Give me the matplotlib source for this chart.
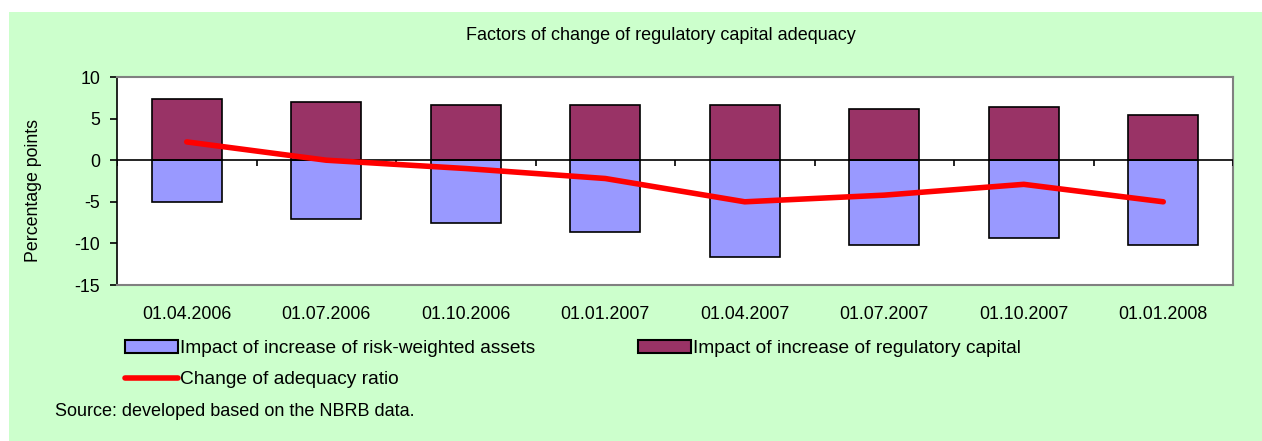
import matplotlib
matplotlib.use("Agg")
import matplotlib.pyplot as plt
import numpy as np
from matplotlib.patches import Rectangle, Patch
from matplotlib.lines import Line2D

plt.rcParams['font.family'] = ['Liberation Sans', 'DejaVu Sans']
plt.rcParams['axes.unicode_minus'] = False

dates = ["01.04.2006", "01.07.2006", "01.10.2006", "01.01.2007",
         "01.04.2007", "01.07.2007", "01.10.2007", "01.01.2008"]
rwa_impact = [-5.0, -7.1, -7.5, -8.6, -11.6, -10.2, -9.3, -10.2]
capital_impact = [7.3, 7.0, 6.6, 6.6, 6.6, 6.1, 6.4, 5.4]
adequacy_change = [2.2, 0.0, -1.0, -2.2, -5.0, -4.2, -2.9, -5.0]

title = "Factors of change of regulatory capital adequacy"
ylabel = "Percentage points"
labels = ["Impact of increase of risk-weighted assets",
          "Impact of increase of regulatory capital",
          "Change of adequacy ratio"]
source = "Source: developed based on the NBRB data."

W, H = 1262, 441
fig = plt.figure(figsize=(W / 100, H / 100), dpi=100, facecolor='white')
# green panel
fig.patches.append(Rectangle((9 / W, 0), 1 - 9 / W, (H - 12) / H,
                             transform=fig.transFigure, facecolor='#CCFFCC',
                             edgecolor='none', zorder=-10))

ax = fig.add_axes([117 / W, 1 - 285 / H, 1116 / W, 208 / H])
ax.set_facecolor('white')
x = np.arange(len(dates))
ax.bar(x, rwa_impact, width=0.5, color='#9999FF', edgecolor='black', linewidth=1.2, zorder=2)
ax.bar(x, capital_impact, width=0.5, color='#993366', edgecolor='black', linewidth=1.2, zorder=2)
ax.axhline(0, color='black', linewidth=1.2, zorder=3)
ax.vlines(np.arange(len(dates) + 1) - 0.5, -0.7, 0, color='black', linewidth=1.2, zorder=3)
ax.plot(x, adequacy_change, color='#FF0000', linewidth=4.0, solid_capstyle='round',
        solid_joinstyle='round', zorder=4)

ax.set_xlim(-0.5, len(dates) - 0.5)
ax.set_ylim(-15, 10)
ax.set_yticks([-15, -10, -5, 0, 5, 10])
ax.set_xticks(x, dates)
ax.tick_params(axis='x', length=0, pad=15, labelsize=12.8)
ax.tick_params(axis='y', length=5, width=1.2, pad=7, labelsize=12.8, direction='out')
for s in ['top', 'right', 'bottom']:
    ax.spines[s].set_color('#808080')
    ax.spines[s].set_linewidth(1.5)
ax.spines['left'].set_color('black')
ax.spines['left'].set_linewidth(1.2)

fig.text(34 / W, 1 - 190 / H, ylabel, rotation=90, ha='center', va='center', fontsize=12.8)
fig.text(661 / W, 1 - 36 / H, title, ha='center', va='center', fontsize=13)
fig.text(55 / W, 1 - 411 / H, source, ha='left', va='center', fontsize=13)

h_rwa = Patch(facecolor='#9999FF', edgecolor='black', linewidth=1.5)
h_cap = Patch(facecolor='#993366', edgecolor='black', linewidth=1.5)
h_line = Line2D([], [], color='#FF0000', linewidth=4.0, solid_capstyle='round')

leg_kw = dict(frameon=False, fontsize=13.8, handlelength=2.76, handleheight=0.63,
              handletextpad=0.1, borderpad=0, borderaxespad=0, labelspacing=0.74,
              loc='upper left')
fig.legend([h_rwa, h_line], [labels[0], labels[2]],
           bbox_to_anchor=(125 / W, 1 - 340 / H), **leg_kw)
fig.legend([h_cap], [labels[1]],
           bbox_to_anchor=(638 / W, 1 - 340 / H), **leg_kw)

fig.savefig('out.png', dpi=100, facecolor='white')
